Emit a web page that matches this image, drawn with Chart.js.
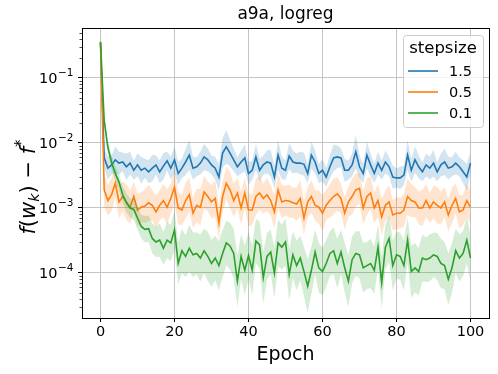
<!DOCTYPE html>
<html>
<head>
<meta charset="utf-8">
<script src="https://cdn.jsdelivr.net/npm/chart.js@4.4.1/dist/chart.umd.min.js"></script>
<style>
  html, body { margin: 0; padding: 0; background: #fff; }
  #wrap { width: 498px; height: 374px; }
</style>
</head>
<body>
<div id="wrap"><canvas id="chart" width="498" height="374"></canvas></div>
<script>
const epochs = Array.from({length: 101}, (_, i) => i);
const stepsizes = ['1.5', '0.5', '0.1'];
const COLORS = ['#1f77b4', '#ff7f0e', '#2ca02c'];
const yTickValues = [1e-4, 1e-3, 1e-2, 1e-1];
const yTickExponents = ['−4', '−3', '−2', '−1'];
const xTickValues = [0, 20, 40, 60, 80, 100];

// mean suboptimality per epoch
const gap15 = [
  0.35, 5.9e-3, 4.1e-3, 4.6e-3, 5.5e-3, 4.9e-3, 5.1e-3, 4.3e-3, 4.9e-3, 3.8e-3, 4.6e-3,
  3.8e-3, 4.1e-3, 3.6e-3, 4.1e-3, 4.6e-3, 3.6e-3, 4.4e-3, 5.3e-3, 4.1e-3, 5.5e-3,
  3.4e-3, 4.1e-3, 5.1e-3, 6.5e-3, 4.1e-3, 4.3e-3, 4.9e-3, 6.1e-3, 5.5e-3, 4.6e-3,
  4.1e-3, 3.0e-3, 7.0e-3, 8.7e-3, 7.0e-3, 5.5e-3, 4.3e-3, 5.1e-3, 5.9e-3, 3.4e-3,
  3.8e-3, 6.1e-3, 3.8e-3, 4.6e-3, 5.1e-3, 4.9e-3, 3.0e-3, 6.5e-3, 4.1e-3, 3.8e-3,
  6.3e-3, 5.1e-3, 4.9e-3, 4.9e-3, 4.7e-3, 3.4e-3, 6.5e-3, 5.1e-3, 3.4e-3, 3.8e-3,
  3.0e-3, 4.3e-3, 5.9e-3, 6.1e-3, 5.9e-3, 3.8e-3, 3.8e-3, 4.6e-3, 7.3e-3, 4.3e-3,
  3.4e-3, 6.5e-3, 4.6e-3, 3.4e-3, 4.9e-3, 3.8e-3, 5.1e-3, 4.3e-3, 3.0e-3, 2.9e-3,
  2.9e-3, 3.2e-3, 6.5e-3, 3.8e-3, 5.5e-3, 4.3e-3, 3.6e-3, 4.6e-3, 4.1e-3, 4.9e-3,
  3.6e-3, 4.6e-3, 5.1e-3, 4.1e-3, 4.3e-3, 4.9e-3, 4.3e-3, 3.6e-3, 3.0e-3, 4.9e-3
];
const gap05 = [
  0.35, 1.9e-3, 1.3e-3, 1.6e-3, 2.4e-3, 1.24e-3, 1.5e-3, 1.24e-3, 1.03e-3, 1.5e-3, 9.3e-4,
  1.03e-3, 1.07e-3, 1.2e-3, 1.1e-3, 8.7e-4, 1.1e-3, 1.3e-3, 1.03e-3, 1.4e-3, 2.1e-3,
  1.0e-3, 9.3e-4, 1.3e-3, 1.6e-3, 8.3e-4, 1.1e-3, 1.03e-3, 1.76e-3, 1.5e-3, 1.24e-3,
  1.4e-3, 5.9e-4, 1.5e-3, 2.4e-3, 1.9e-3, 1.3e-3, 1.7e-3, 1.0e-3, 1.7e-3, 9.3e-4,
  9.3e-4, 1.5e-3, 1.7e-3, 1.4e-3, 1.6e-3, 1.3e-3, 8.7e-4, 1.9e-3, 1.24e-3, 1.3e-3,
  1.28e-3, 1.2e-3, 1.15e-3, 1.4e-3, 7.0e-4, 1.24e-3, 1.5e-3, 1.1e-3, 1.03e-3, 8.3e-4,
  1.1e-3, 1.3e-3, 1.5e-3, 1.65e-3, 1.4e-3, 8.3e-4, 1.24e-3, 1.5e-3, 1.9e-3, 2.0e-3,
  1.0e-3, 1.5e-3, 1.7e-3, 1.0e-3, 1.3e-3, 7.3e-4, 1.1e-3, 1.24e-3, 7.8e-4, 8.3e-4,
  8.3e-4, 9.3e-4, 1.5e-3, 1.3e-3, 1.24e-3, 1.0e-3, 1.0e-3, 1.3e-3, 1.0e-3, 1.24e-3,
  1.1e-3, 1.0e-3, 1.24e-3, 7.8e-4, 1.1e-3, 1.4e-3, 8.7e-4, 9.3e-4, 1.3e-3, 1.03e-3
];
const gap01 = [
  0.36, 2.2e-2, 8.5e-3, 5.0e-3, 3.4e-3, 2.5e-3, 1.6e-3, 1.2e-3, 1.0e-3, 9.5e-4, 7.0e-4,
  5.2e-4, 4.7e-4, 4.8e-4, 3.4e-4, 3.0e-4, 3.2e-4, 2.4e-4, 3.2e-4, 2.9e-4, 4.6e-4,
  1.4e-4, 2.2e-4, 1.8e-4, 2.4e-4, 1.9e-4, 2.0e-4, 1.7e-4, 2.2e-4, 1.8e-4, 1.4e-4,
  1.7e-4, 1.3e-4, 2.0e-4, 2.9e-4, 2.6e-4, 2.0e-4, 7.5e-5, 1.8e-4, 1.1e-4, 1.85e-4,
  1.1e-4, 3.1e-4, 2.7e-4, 8.5e-5, 1.8e-4, 2.1e-4, 1.0e-4, 2.9e-4, 2.5e-4, 3.0e-4,
  9.5e-5, 1.9e-4, 1.3e-4, 1.7e-4, 1.05e-4, 6.3e-5, 1.1e-4, 2.1e-4, 1.2e-4, 1.05e-4,
  1.4e-4, 2.0e-4, 2.2e-4, 1.4e-4, 2.1e-4, 1.2e-4, 7.5e-5, 1.6e-4, 2.0e-4, 1.9e-4,
  1.2e-4, 1.3e-4, 1.4e-4, 1.1e-4, 2.5e-4, 7.1e-5, 2.5e-4, 3.4e-4, 1.3e-4, 1.9e-4,
  1.8e-4, 1.3e-4, 3.2e-4, 1.05e-4, 1.2e-4, 1.05e-4, 1.7e-4, 1.6e-4, 1.7e-4, 1.9e-4,
  1.8e-4, 1.4e-4, 1.3e-4, 8.0e-5, 1.2e-4, 2.2e-4, 1.7e-4, 2.0e-4, 3.2e-4, 1.7e-4
];

// shaded band: multiplicative spread around the mean
const spread15 = [
  1.05, 1.4, 1.5, 1.4, 1.6, 1.5, 1.4, 1.6, 1.5, 1.4, 1.5,
  1.6, 1.4, 1.5, 1.6, 1.4, 1.5, 1.6, 1.4, 1.5, 1.6,
  1.5, 1.4, 1.6, 1.7, 1.5, 1.4, 1.5, 1.6, 1.5, 1.4,
  1.5, 1.6, 1.7, 1.8, 1.6, 1.5, 1.4, 1.5, 1.6, 1.5,
  1.4, 1.6, 1.5, 1.4, 1.5, 1.6, 1.5, 1.7, 1.5, 1.4,
  1.6, 1.5, 1.4, 1.5, 1.5, 1.4, 1.6, 1.5, 1.4, 1.5,
  1.4, 1.5, 1.6, 1.5, 1.4, 1.5, 1.4, 1.5, 1.8, 1.5,
  1.4, 1.6, 1.5, 1.4, 1.5, 1.4, 1.5, 1.4, 1.5, 1.4,
  1.5, 1.4, 1.7, 1.5, 1.6, 1.5, 1.4, 1.5, 1.5, 1.6,
  1.4, 1.5, 1.6, 1.5, 1.4, 1.5, 1.4, 1.5, 1.6, 1.5
];
const spread05 = [
  1.05, 1.8, 1.7, 1.8, 1.7, 1.8, 1.7, 1.9, 1.8, 1.7, 1.8,
  1.7, 1.8, 1.9, 1.7, 1.8, 1.7, 1.8, 1.9, 1.7, 1.8,
  1.8, 1.7, 1.9, 1.8, 1.7, 1.8, 1.9, 1.8, 1.7, 1.8,
  1.9, 1.8, 1.7, 1.8, 1.9, 1.8, 1.7, 1.8, 1.7, 1.8,
  1.7, 1.9, 1.8, 1.7, 1.8, 1.7, 1.8, 1.9, 1.8, 1.7,
  1.8, 1.7, 1.8, 1.9, 1.8, 1.7, 1.8, 1.7, 1.8, 1.9,
  1.7, 1.8, 1.9, 1.8, 1.7, 1.8, 1.7, 1.9, 1.8, 1.7,
  1.8, 1.9, 1.8, 1.7, 1.8, 1.9, 1.7, 1.8, 1.7, 1.8,
  1.7, 1.8, 1.9, 1.8, 1.7, 1.8, 1.9, 1.8, 1.7, 1.8,
  1.9, 1.8, 1.7, 1.8, 1.9, 1.7, 1.8, 1.7, 1.8, 1.8
];
const spread01 = [
  1.05, 1.2, 1.25, 1.3, 1.3, 1.35, 1.35, 1.4, 1.4, 1.45, 1.5,
  1.5, 1.6, 1.6, 1.7, 1.7, 1.8, 1.8, 1.9, 1.9, 2.0,
  2.1, 2.2, 2.1, 2.3, 2.2, 2.1, 2.3, 2.2, 2.4, 2.3,
  2.2, 2.4, 2.3, 2.2, 2.3, 2.4, 2.5, 2.2, 2.4, 2.3,
  2.4, 2.2, 2.3, 2.5, 2.3, 2.2, 2.4, 2.3, 2.2, 2.3,
  2.5, 2.3, 2.4, 2.2, 2.4, 2.6, 2.3, 2.2, 2.4, 2.3,
  2.3, 2.2, 2.3, 2.4, 2.2, 2.4, 2.5, 2.3, 2.2, 2.3,
  2.4, 2.3, 2.4, 2.3, 2.2, 2.5, 2.2, 2.3, 2.4, 2.3,
  2.3, 2.4, 2.2, 2.5, 2.4, 2.3, 2.3, 2.2, 2.3, 2.2,
  2.3, 2.4, 2.3, 2.5, 2.4, 2.2, 2.3, 2.2, 2.3, 2.3
];

const gaps = [gap15, gap05, gap01];
const spreads = [spread15, spread05, spread01];

function rgba(hex, a) {
    const n = parseInt(hex.slice(1), 16);
    return 'rgba(' + (n >> 16) + ',' + ((n >> 8) & 255) + ',' + (n & 255) + ',' + a + ')';
}

// band (upper, lower) + line for every stepsize; later series on top
const datasets = [];
gaps.forEach((g, i) => {
    const s = spreads[i];
    const order = 10 - 2 * i;
    datasets.push({
        label: 'hi', data: g.map((v, k) => v * s[k]),
        borderWidth: 0, pointRadius: 0, fill: false, order: order + 1
    });
    datasets.push({
        label: 'lo', data: g.map((v, k) => v / s[k]),
        borderWidth: 0, pointRadius: 0, fill: '-1',
        backgroundColor: rgba(COLORS[i], 0.2), order: order + 1
    });
    datasets.push({
        label: stepsizes[i], data: g,
        borderColor: COLORS[i], borderWidth: 1.6, pointRadius: 0,
        fill: false, tension: 0, order: order
    });
});

const FONT = "'DejaVu Sans', sans-serif";

const decor = {
    id: 'decor',
    afterDraw(chart) {
        const ctx = chart.ctx;
        const a = chart.chartArea;
        const ys = chart.scales.y;
        ctx.save();

        // minor ticks on the log axis
        ctx.strokeStyle = '#000';
        ctx.lineWidth = 0.7;
        for (let p = -5; p <= 0; p++) {
            for (let m = 2; m <= 9; m++) {
                const v = m * Math.pow(10, p);
                if (v < ys.min || v > ys.max) continue;
                const y = Math.round(ys.getPixelForValue(v)) + 0.5;
                ctx.beginPath();
                ctx.moveTo(a.left, y);
                ctx.lineTo(a.left - 2.5, y);
                ctx.stroke();
            }
        }

        // frame
        ctx.lineWidth = 1;
        ctx.strokeRect(Math.round(a.left) + 0.5, Math.round(a.top) + 0.5,
            Math.round(a.right - a.left), Math.round(a.bottom - a.top));

        // y tick labels 10^n
        ctx.fillStyle = '#000';
        ctx.textBaseline = 'middle';
        ctx.textAlign = 'left';
        yTickValues.forEach((v, i) => {
            const y = ys.getPixelForValue(v);
            ctx.font = '10.5px ' + FONT;
            const we = ctx.measureText(yTickExponents[i]).width;
            ctx.font = '14.5px ' + FONT;
            const wb = ctx.measureText('10').width;
            const x0 = a.left - 9 - we - wb;
            ctx.fillText('10', x0, y + 1);
            ctx.font = '10.5px ' + FONT;
            ctx.fillText(yTickExponents[i], x0 + wb + 0.5, y - 5);
        });

        const cx = (a.left + a.right) / 2;
        ctx.textAlign = 'center';
        ctx.font = '17px ' + FONT;
        ctx.fillText('a9a, logreg', cx, 15);

        ctx.font = '19px ' + FONT;
        ctx.fillText('Epoch', cx, 355);

        // y label: f(w_k) − f*
        const parts = [
            {t: 'f', f: 'italic 21px ' + FONT, dy: 0},
            {t: '(', f: '21px ' + FONT, dy: 0},
            {t: 'w', f: 'italic 21px ' + FONT, dy: 0},
            {t: 'k', f: 'italic 14.5px ' + FONT, dy: 5},
            {t: ')', f: '21px ' + FONT, dy: 0},
            {t: ' − ', f: '21px ' + FONT, dy: 0},
            {t: 'f', f: 'italic 21px ' + FONT, dy: 0},
            {t: '*', f: '15px ' + FONT, dy: -8}
        ];
        let total = 0;
        parts.forEach(p => { ctx.font = p.f; p.w = ctx.measureText(p.t).width; total += p.w; });
        ctx.translate(30, (a.top + a.bottom) / 2 + 14);
        ctx.rotate(-Math.PI / 2);
        ctx.textAlign = 'left';
        let x = -total / 2;
        parts.forEach(p => { ctx.font = p.f; ctx.fillText(p.t, x, p.dy); x += p.w; });
        ctx.setTransform(1, 0, 0, 1, 0, 0);

        // legend box
        const bx = 403, by = 35, bw = 80, bh = 92;
        ctx.beginPath();
        ctx.roundRect(bx + 0.5, by + 0.5, bw, bh, 3);
        ctx.fillStyle = 'rgba(255,255,255,0.8)';
        ctx.fill();
        ctx.strokeStyle = '#cccccc';
        ctx.lineWidth = 1;
        ctx.stroke();
        ctx.fillStyle = '#000';
        ctx.textAlign = 'center';
        ctx.font = '16.5px ' + FONT;
        ctx.fillText('stepsize', bx + bw / 2, by + 14);
        ctx.textAlign = 'left';
        ctx.font = '14.5px ' + FONT;
        stepsizes.forEach((s, i) => {
            const ly = by + 36 + i * 21;
            ctx.strokeStyle = COLORS[i];
            ctx.lineWidth = 1.6;
            ctx.beginPath();
            ctx.moveTo(bx + 5, ly);
            ctx.lineTo(bx + 35, ly);
            ctx.stroke();
            ctx.fillText(s, bx + 46, ly + 1);
        });
        ctx.restore();
    }
};

new Chart(document.getElementById('chart'), {
    type: 'line',
    data: { labels: epochs, datasets: datasets },
    options: {
        responsive: false,
        animation: false,
        devicePixelRatio: 1,
        layout: { padding: { left: 0, right: 9, top: 28, bottom: 0 } },
        plugins: {
            legend: { display: false },
            title: { display: false },
            tooltip: { enabled: false }
        },
        scales: {
            x: {
                type: 'linear',
                min: -5,
                max: 105,
                afterBuildTicks: s => { s.ticks = xTickValues.map(v => ({value: v})); },
                afterFit: s => { s.height = 56; },
                grid: { color: '#c4c4c4', lineWidth: 1, tickColor: '#000', tickLength: 4, tickWidth: 1 },
                border: { display: false },
                ticks: { color: '#000', font: { family: FONT, size: 14.5 }, padding: 2, maxRotation: 0 }
            },
            y: {
                type: 'logarithmic',
                min: 2.03e-5,
                max: 0.587,
                afterBuildTicks: s => { s.ticks = yTickValues.map(v => ({value: v})); },
                afterFit: s => { s.width = 82; },
                grid: { color: '#c4c4c4', lineWidth: 1, tickColor: '#000', tickLength: 4, tickWidth: 1 },
                border: { display: false },
                ticks: { display: false }
            }
        }
    },
    plugins: [decor]
});
</script>
</body>
</html>
